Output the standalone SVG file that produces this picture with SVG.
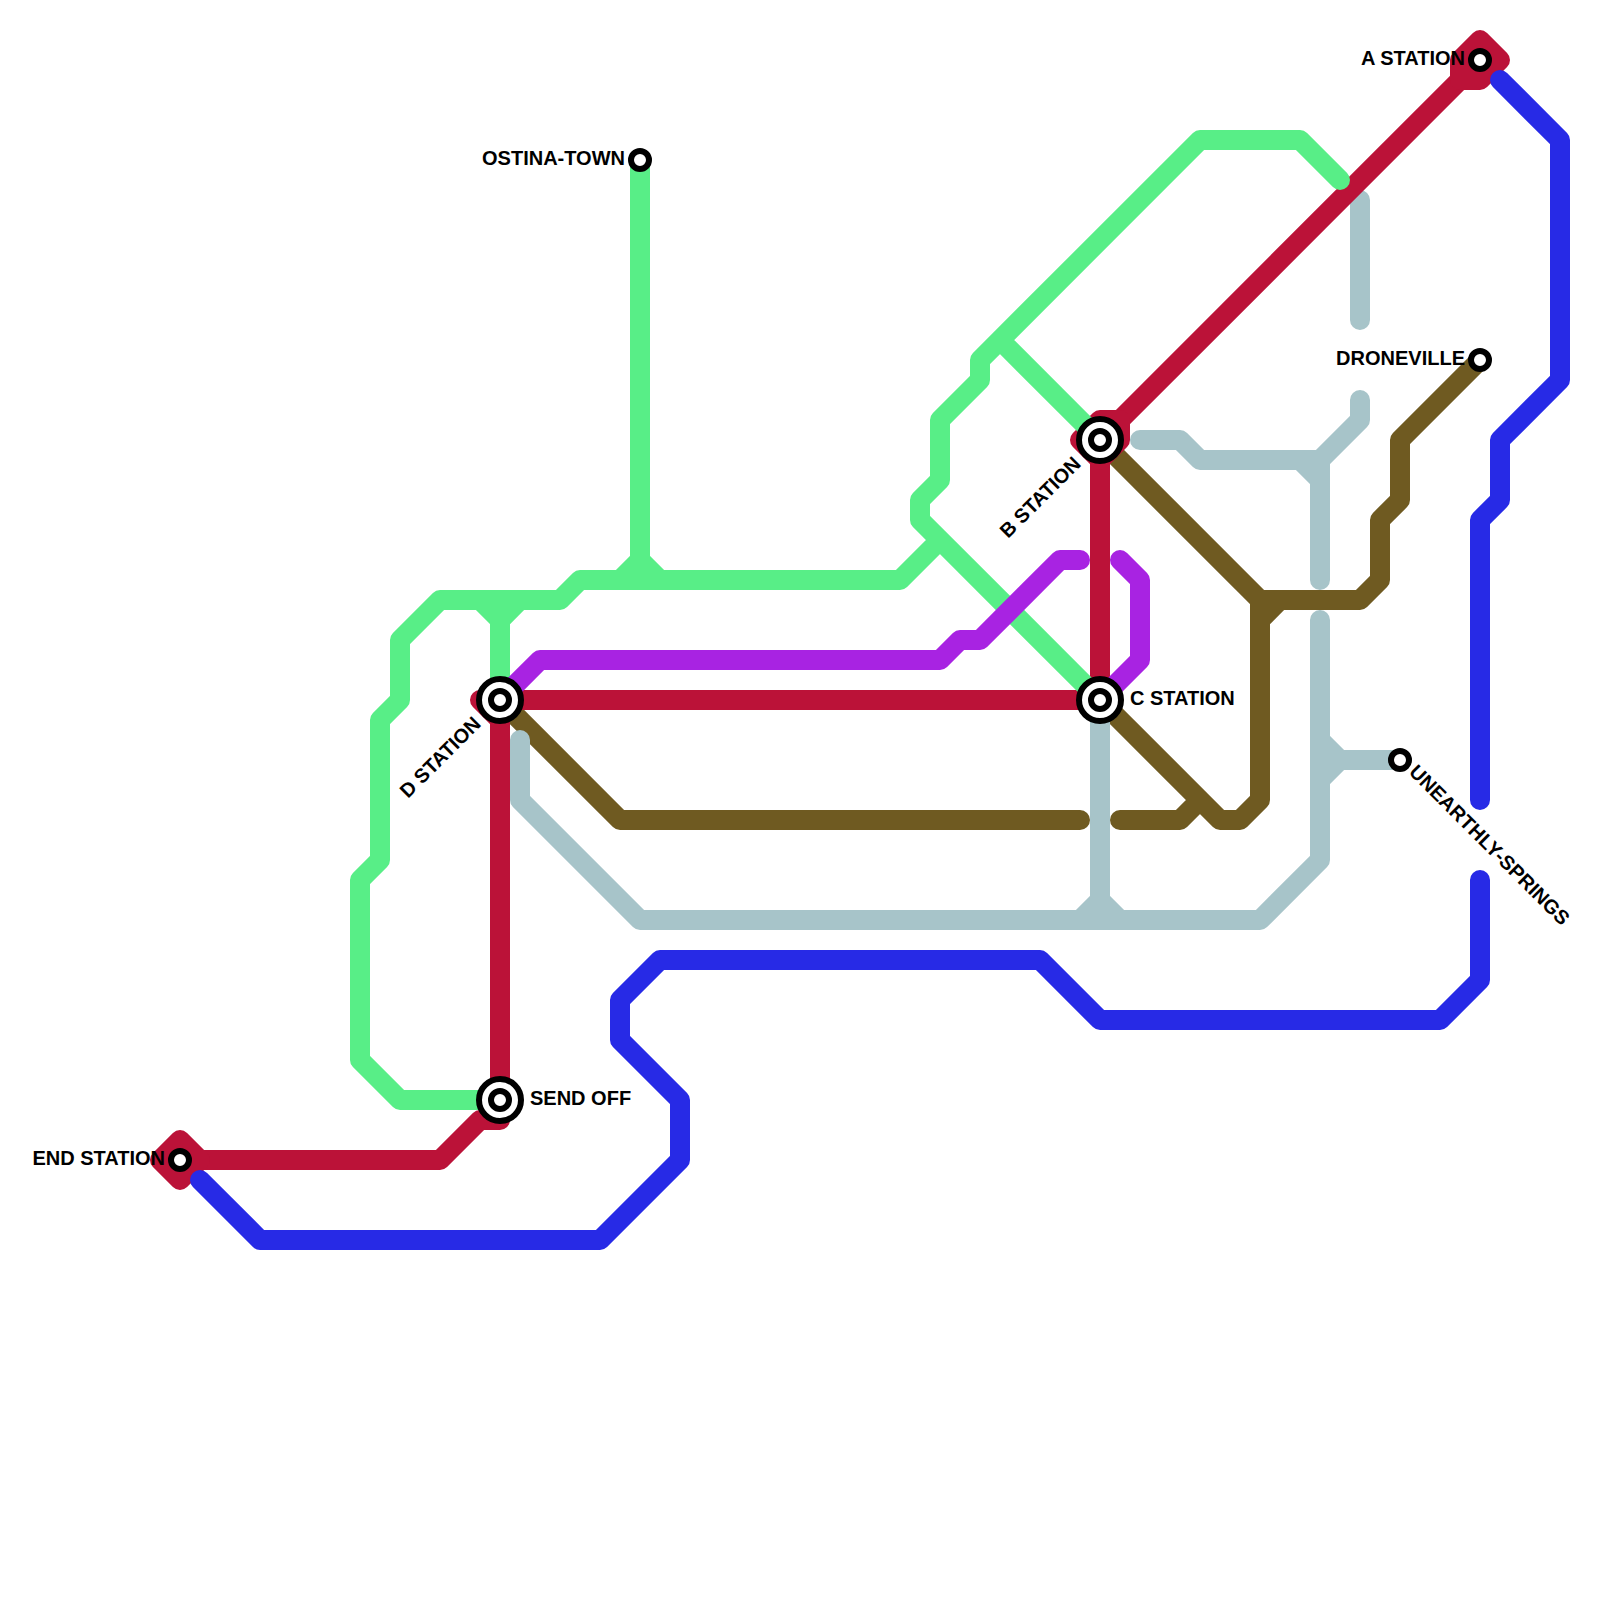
<svg xmlns="http://www.w3.org/2000/svg" width="1600" height="1600" viewBox="0 0 1600 1600">
<style>
.l{fill:none;stroke-width:20;stroke-linecap:round;stroke-linejoin:round}
.f{stroke-width:20;stroke-linecap:round;stroke-linejoin:round}
.brown{stroke:#6f5a21}.blue{stroke:#a7c4c9}.red{stroke:#bb1238}.green{stroke:#58ee87}.purple{stroke:#a823e2}.navy{stroke:#272ae6}
.o{fill:#fff;stroke:#000;stroke-width:6}
.t{font-family:"Liberation Sans",Arial,sans-serif;font-weight:700;font-size:20px;fill:#000}
.e{text-anchor:end}
</style>
<rect width="1600" height="1600" fill="#fff"/>
<g id="connectors">
<path class="l brown" d="M500 700L620 820H1080M1100 700L1220 820H1240L1260 800V600M1200 800L1180 820H1120M1100 440L1260 600H1360L1380 580V520L1400 500V440L1480 360M1260 620L1280 600"/>
<path class="l blue" d="M520 740V800L640 920H1260L1320 860V620M1100 700V900L1080 920M1100 900L1120 920M1400 760H1340L1320 740M1340 760L1320 780M1320 580V460H1200L1180 440H1140M1300 460L1320 480M1320 460L1360 420V400M1360 200V320"/>
<path class="l red" d="M1100 700H480L500 720V1120H480L440 1160H180"/>
<path class="l red" d="M1100 700V460M1120 420L1480 60"/>
<path class="f red" fill="#bb1238" d="M180 1140L160 1160L180 1180L200 1160Z"/>
<path class="f red" fill="#bb1238" d="M1460 80V60L1480 40L1500 60L1480 80Z"/>
<path class="f red" fill="#bb1238" d="M1080 440L1100 420H1120V440L1100 460Z"/>
<path class="l green" d="M640 160V560L620 580M640 560L660 580M500 1100H400L360 1060V880L380 860V720L400 700V640L440 600H560L580 580H900L940 540M500 700V620L480 600M500 620L520 600M1100 700L920 520V500L940 480V420L980 380V360L1200 140H1300L1340 180M1000 340L1100 440"/>
<path class="l purple" d="M500 700L540 660H940L960 640H980L1060 560H1080M1120 560L1140 580V660L1100 700"/>
<path class="l navy" d="M1500 80L1560 140V380L1500 440V500L1480 520V800M1480 880V980L1440 1020H1100L1040 960H660L620 1000V1040L680 1100V1160L600 1240H260L200 1180"/>
</g>
<g id="a-station"><circle class="o" cx="1480" cy="60" r="9"/><text class="t e" x="1465" y="65">A STATION</text></g>
<g id="droneville"><circle class="o" cx="1480" cy="360" r="9"/><text class="t e" x="1465" y="365">DRONEVILLE</text></g>
<g id="ostina-town"><circle class="o" cx="640" cy="160" r="9"/><text class="t e" x="625" y="165">OSTINA-TOWN</text></g>
<g id="end-station"><circle class="o" cx="180" cy="1160" r="9"/><text class="t e" x="165" y="1165">END STATION</text></g>
<g id="unearthly-springs"><circle class="o" cx="1400" cy="760" r="9"/><text class="t" transform="translate(1408 773) rotate(45)">UNEARTHLY-SPRINGS</text></g>
<g id="b-station"><circle class="o" cx="1100" cy="440" r="21"/><circle class="o" cx="1100" cy="440" r="9"/><text class="t e" transform="translate(1082 465) rotate(-45)">B STATION</text></g>
<g id="c-station"><circle class="o" cx="1100" cy="700" r="21"/><circle class="o" cx="1100" cy="700" r="9"/><text class="t" x="1130" y="705">C STATION</text></g>
<g id="d-station"><circle class="o" cx="500" cy="700" r="21"/><circle class="o" cx="500" cy="700" r="9"/><text class="t e" transform="translate(482 725) rotate(-45)">D STATION</text></g>
<g id="send-off"><circle class="o" cx="500" cy="1100" r="21"/><circle class="o" cx="500" cy="1100" r="9"/><text class="t" x="530" y="1105">SEND OFF</text></g>
</svg>
